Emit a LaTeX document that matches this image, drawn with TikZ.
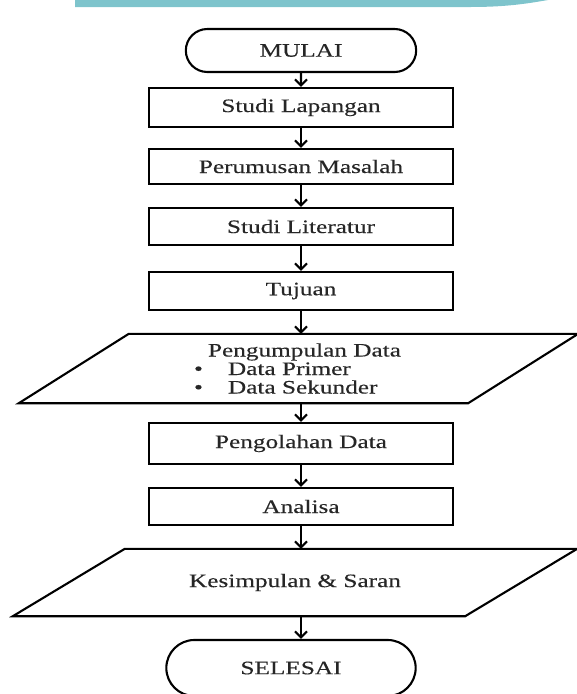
\documentclass[tikz,border=0pt]{standalone}
\usepackage{fontspec}
\setmainfont{Liberation Serif}[FakeStretch=1.33, FakeBold=0.3]
\usetikzlibrary{shapes.misc,arrows.meta}
\definecolor{bandteal}{RGB}{126,196,204}
\tikzset{
terminal/.style={
	draw, rounded rectangle, line width=2.1pt,
	minimum height=43pt},
process/.style={draw, rectangle, line width=2.1pt, minimum width=304pt},
inout/.style={rectangle, minimum width=452pt},
flow/.style={-{Straight Barb[length=6pt,width=12pt]}, line width=2.1pt}
}
% slanted outline round a data node: #1 node name, #2 half of the slant
\newcommand{\slantbox}[2]{
	\draw[line width=2.1pt, line join=miter]
		([xshift=-#2]#1.south west) -- ([xshift=#2]#1.north west)
		-- ([xshift=#2]#1.north east) -- ([xshift=-#2]#1.south east) -- cycle;
}
% one bullet line of a list inside a node
\newcommand{\bulletline}[1]{\makebox[209pt][l]{\makebox[9pt][c]{\textbullet}\hspace{25pt}#1}}

\begin{document}
\begin{tikzpicture}[x=1pt, y=-1pt,
	every node/.style={text=black!85, font=\fontsize{19}{18.5}\selectfont}]
	\useasboundingbox (0,0) rectangle (577,694);
	\clip (0,0) rectangle (577,694);
	% band at the top of the page
	\fill[bandteal] (75,0) -- (75,7) -- (470,7) .. controls (505,7) and (525,4) .. (548,0) -- cycle;

	\node[terminal, minimum width=237pt] (mulai) at (301,50.5) {MULAI};
	\node[process, minimum height=39pt] (lapangan) at (301,107.5) {Studi Lapangan};
	\node[process, minimum height=35pt] (rumusan) at (301,166.5) {Perumusan Masalah};
	\node[process, minimum height=37pt] (literatur) at (301,226.5) {Studi Literatur};
	\node[process, minimum height=38pt] (tujuan) at (301,291) {Tujuan};
	\node[inout, minimum width=449pt, minimum height=69pt, align=center] (kumpul) at (298.5,368.5)
		{\makebox[209pt][l]{\hspace{14pt}Pengumpulan Data}\\
		 \bulletline{Data Primer}\\
		 \bulletline{Data Sekunder}};
	\slantbox{kumpul}{55pt}
	\node[process, minimum height=41pt] (olah) at (301,443.5) {Pengolahan Data};
	\node[process, minimum height=37pt] (analisa) at (301,506.5) {Analisa};
	\node[inout, minimum height=67pt] (simpul) at (295,582.5) {Kesimpulan \& Saran};
	\slantbox{simpul}{56pt}
	\node[terminal, minimum width=256pt, minimum height=56pt] (selesai) at (291,668) {SELESAI};

	\draw[flow] (mulai) -- (lapangan);
	\draw[flow] (lapangan) -- (rumusan);
	\draw[flow] (rumusan) -- (literatur);
	\draw[flow] (literatur) -- (tujuan);
	\draw[flow] (tujuan.south) -- (tujuan.south |- kumpul.north);
	\draw[flow] (olah.north |- kumpul.south) -- (olah.north);
	\draw[flow] (olah) -- (analisa);
	\draw[flow] (analisa.south) -- (analisa.south |- simpul.north);
	\draw[flow] (analisa.south |- simpul.south) -- (analisa.south |- selesai.north);
\end{tikzpicture}
\end{document}
